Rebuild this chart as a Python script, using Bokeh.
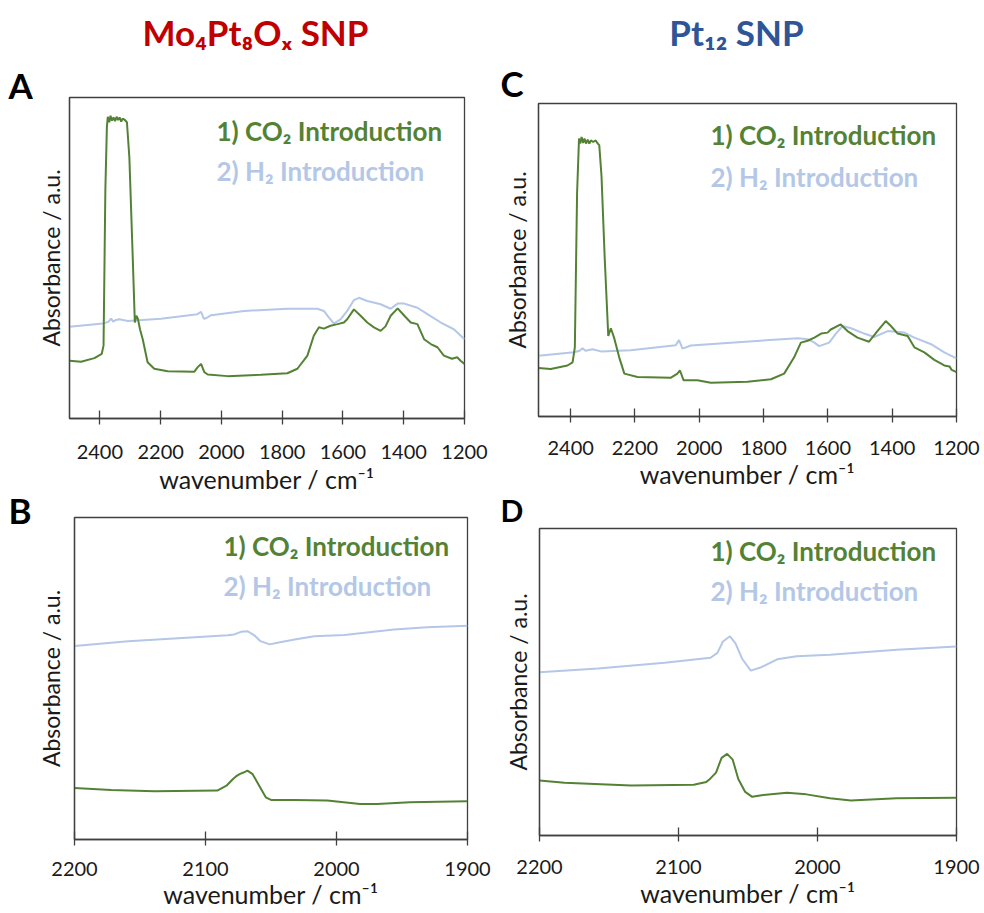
from bokeh.plotting import figure
from bokeh.models import Range1d, FixedTicker, Label
from bokeh.layouts import column, row
from bokeh.embed import file_html
from bokeh.resources import INLINE

# ---------------- data (absorbance in arbitrary units) ----------------
# Panel A : Mo4Pt8Ox SNP, 2500-1200 cm-1
a_co2_wn = [2500, 2462, 2418, 2394, 2388, 2382, 2377, 2374, 2369, 2365, 2360, 2355, 2350, 2345,
            2340, 2335, 2330, 2325, 2318, 2311, 2303, 2292, 2285, 2280, 2275, 2268, 2259, 2243,
            2221, 2177, 2089, 2078, 2067, 2056, 2045, 1980, 1870, 1783, 1750, 1717, 1696, 1679,
            1663, 1641, 1618, 1597, 1586, 1564, 1542, 1520, 1498, 1476, 1460, 1443, 1420, 1398,
            1377, 1355, 1333, 1311, 1289, 1268, 1241, 1224, 1213, 1200]
a_co2_ab = [0.180, 0.177, 0.188, 0.201, 0.227, 0.711, 0.907, 0.940, 0.923, 0.943, 0.928, 0.938,
            0.926, 0.940, 0.930, 0.938, 0.925, 0.934, 0.930, 0.923, 0.814, 0.505, 0.299, 0.320,
            0.311, 0.278, 0.247, 0.175, 0.155, 0.147, 0.146, 0.160, 0.170, 0.144, 0.137, 0.132,
            0.136, 0.141, 0.155, 0.196, 0.258, 0.284, 0.280, 0.289, 0.294, 0.299, 0.309, 0.340,
            0.320, 0.299, 0.284, 0.273, 0.287, 0.320, 0.343, 0.320, 0.299, 0.294, 0.247, 0.232,
            0.222, 0.196, 0.186, 0.191, 0.180, 0.170]
a_h2_wn = [2500, 2390, 2372, 2363, 2356, 2347, 2336, 2308, 2199, 2079, 2067, 2058, 2049, 2034,
           1925, 1783, 1684, 1663, 1646, 1630, 1608, 1586, 1564, 1547, 1520, 1476, 1443, 1420,
           1398, 1355, 1322, 1278, 1235, 1200]
a_h2_ab = [0.286, 0.296, 0.301, 0.311, 0.302, 0.307, 0.309, 0.304, 0.311, 0.325, 0.332, 0.311,
           0.313, 0.322, 0.335, 0.342, 0.342, 0.335, 0.314, 0.296, 0.309, 0.335, 0.369, 0.376,
           0.366, 0.356, 0.342, 0.358, 0.358, 0.345, 0.325, 0.299, 0.278, 0.247]

# Panel C : Pt12 SNP, 2500-1200 cm-1
c_co2_wn = [2500, 2462, 2410, 2394, 2387, 2380, 2374, 2370, 2366, 2361, 2357, 2352, 2347, 2342,
            2337, 2330, 2322, 2316, 2311, 2304, 2294, 2283, 2275, 2265, 2249, 2233, 2192, 2088,
            2068, 2060, 2049, 2006, 1964, 1850, 1777, 1736, 1705, 1684, 1663, 1642, 1621, 1601,
            1591, 1560, 1539, 1508, 1472, 1446, 1420, 1404, 1383, 1352, 1331, 1300, 1269, 1238,
            1222, 1215, 1200]
c_co2_ab = [0.155, 0.152, 0.163, 0.173, 0.221, 0.714, 0.888, 0.872, 0.893, 0.874, 0.888, 0.872,
            0.885, 0.872, 0.882, 0.877, 0.882, 0.872, 0.867, 0.767, 0.504, 0.257, 0.282, 0.252,
            0.189, 0.137, 0.126, 0.124, 0.137, 0.147, 0.116, 0.116, 0.108, 0.111, 0.119, 0.137,
            0.189, 0.236, 0.242, 0.252, 0.265, 0.268, 0.278, 0.294, 0.273, 0.252, 0.239, 0.273,
            0.305, 0.289, 0.265, 0.257, 0.221, 0.205, 0.181, 0.163, 0.160, 0.149, 0.142]
c_h2_wn = [2500, 2389, 2372, 2363, 2354, 2332, 2306, 2213, 2073, 2063, 2052, 2026, 1902, 1694,
           1663, 1642, 1627, 1596, 1575, 1554, 1528, 1487, 1456, 1414, 1362, 1331, 1279, 1238, 1200]
c_h2_ab = [0.194, 0.205, 0.210, 0.218, 0.210, 0.215, 0.208, 0.212, 0.228, 0.244, 0.217, 0.227,
           0.236, 0.250, 0.247, 0.236, 0.225, 0.236, 0.265, 0.289, 0.282, 0.265, 0.254, 0.273,
           0.268, 0.252, 0.231, 0.205, 0.186]

# Panel B : Mo4Pt8Ox SNP, 2200-1900 cm-1
b_h2_wn = [2200, 2159, 2108, 2083, 2078, 2073, 2068, 2063, 2058, 2051, 2045, 2032, 2017, 1994,
           1956, 1931, 1900]
b_h2_ab = [0.601, 0.616, 0.628, 0.634, 0.637, 0.645, 0.647, 0.635, 0.616, 0.606, 0.611, 0.621,
           0.631, 0.635, 0.652, 0.659, 0.664]
b_co2_wn = [2200, 2172, 2139, 2091, 2084, 2079, 2077, 2074, 2071, 2068, 2064, 2059, 2054, 2050,
            2032, 2007, 1982, 1969, 1944, 1900]
b_co2_ab = [0.160, 0.154, 0.150, 0.152, 0.167, 0.188, 0.195, 0.203, 0.208, 0.214, 0.203, 0.167,
            0.131, 0.123, 0.123, 0.121, 0.110, 0.110, 0.116, 0.119]

# Panel D : Pt12 SNP, 2200-1900 cm-1
d_h2_wn = [2200, 2158, 2110, 2077, 2072, 2068, 2063, 2059, 2054, 2048, 2041, 2029, 2015, 1991,
           1943, 1900]
d_h2_ab = [0.532, 0.544, 0.563, 0.579, 0.595, 0.632, 0.649, 0.626, 0.574, 0.537, 0.547, 0.574,
           0.584, 0.589, 0.605, 0.616]
d_co2_wn = [2200, 2182, 2134, 2089, 2080, 2077, 2073, 2069, 2065, 2061, 2057, 2052, 2047, 2039,
            2022, 2008, 1991, 1976, 1943, 1900]
d_co2_ab = [0.179, 0.172, 0.163, 0.165, 0.174, 0.186, 0.205, 0.253, 0.266, 0.247, 0.184, 0.142,
            0.126, 0.132, 0.139, 0.134, 0.121, 0.114, 0.121, 0.123]

top_ticks = [2400, 2200, 2000, 1800, 1600, 1400, 1200]
bottom_ticks = [2200, 2100, 2000, 1900]

series_names = ["1) CO\u2082 Introduction", "2) H\u2082 Introduction"]
titles = ["Mo\u2084Pt\u2088O\u2093 SNP", "Pt\u2081\u2082 SNP"]
panel_letters = ["A", "B", "C", "D"]
x_label = "wavenumber / cm\u207b\u00b9"
y_label = "Absorbance / a.u."

GREEN = "#548235"
LBLUE = "#B4C7E7"
RED = "#C00000"
DBLUE = "#2F5597"
FONT = "Lato"
INK = "#1a1a1a"
FRAME = "#404040"
SHIFT = 0.27  # label baseline correction, fraction of the font size


def make_panel(width, height, left, right, top, bottom, xr, ticks,
               tick_standoff, label_standoff, ylabel_standoff):
    p = figure(width=width, height=height, output_backend="svg", toolbar_location=None,
               x_range=Range1d(*xr), y_range=Range1d(0, 1), title_location=None,
               min_border_left=left, min_border_right=right,
               min_border_top=top, min_border_bottom=bottom)
    p.grid.visible = False
    p.outline_line_color = FRAME
    p.outline_line_width = 1.3
    xa = p.xaxis[0]
    xa.ticker = FixedTicker(ticks=ticks)
    xa.minor_tick_line_color = None
    xa.major_tick_in = 8
    xa.major_tick_out = 6
    xa.axis_line_color = FRAME
    xa.axis_line_width = 1.3
    xa.major_tick_line_color = FRAME
    xa.major_tick_line_width = 1.3
    xa.major_label_text_font = FONT
    xa.major_label_text_font_size = "20px"
    xa.major_label_text_color = INK
    xa.major_label_standoff = tick_standoff
    xa.axis_label = x_label
    xa.axis_label_text_font = FONT
    xa.axis_label_text_font_size = "25px"
    xa.axis_label_text_font_style = "normal"
    xa.axis_label_text_color = INK
    xa.axis_label_standoff = label_standoff
    ya = p.yaxis[0]
    ya.ticker = FixedTicker(ticks=[])
    ya.minor_tick_line_color = None
    ya.major_tick_line_color = None
    ya.major_tick_in = 0
    ya.major_tick_out = 0
    ya.axis_line_color = FRAME
    ya.axis_line_width = 1.3
    ya.axis_label = y_label
    ya.axis_label_text_font = FONT
    ya.axis_label_text_font_size = "23px"
    ya.axis_label_text_font_style = "normal"
    ya.axis_label_text_color = INK
    ya.axis_label_standoff = ylabel_standoff
    return p


def legend_text(p, frame_left, frame_bottom, cx, cy, text, color):
    # cx, cy: position in the figure canvas (cy = baseline, from top)
    size = 26
    p.add_layout(Label(x=cx - frame_left, y=frame_bottom - cy + SHIFT * size,
                       x_units="screen", y_units="screen",
                       text=text, text_font=FONT, text_font_size=f"{size}px",
                       text_font_style="bold", text_color=color, text_align="left",
                       text_baseline="alphabetic"))


def make_strip(width, height, x0, y_top):
    # a plain drawing strip whose ranges are page pixels (y grows downwards)
    s = figure(width=width, height=height, output_backend="svg", toolbar_location=None,
               x_range=Range1d(x0, x0 + width), y_range=Range1d(y_top + height, y_top),
               x_axis_location=None, y_axis_location=None, title_location=None,
               min_border=0, min_border_left=0, min_border_right=0,
               min_border_top=0, min_border_bottom=0)
    s.grid.visible = False
    s.outline_line_color = None
    return s


def strip_text(s, x, y_center, text, size, color, align="left"):
    # y_center: vertical centre of the glyphs on the page
    s.add_layout(Label(x=x, y=y_center, text=text, text_font=FONT,
                       text_font_size=f"{size}px",
                       text_font_style="bold", text_color=color, text_align=align,
                       text_baseline="alphabetic"))


LW = 33  # width of the letter column at the far left

# ---------------- left half ----------------
top_left = make_strip(492, 55, 0, 0)
strip_text(top_left, 255, 31.5, titles[0], 35, RED, align="center")

letters_left = make_strip(LW, 858, 0, 55)
strip_text(letters_left, 8, 84.5, panel_letters[0], 35, "black")
strip_text(letters_left, 8, 509.5, panel_letters[1], 35, "black")

# panel A : page x 33..492, y 55..496  (frame 68..464 x 97..420)
pA = make_panel(492 - LW, 441, 35, 28, 42, 76, (2500, 1200), top_ticks, 20, 2, 5)
pA.line(a_h2_wn, a_h2_ab, line_color=LBLUE, line_width=2)
pA.line(a_co2_wn, a_co2_ab, line_color=GREEN, line_width=2)
legend_text(pA, 35, 365, 215 - LW, 140 - 55, series_names[0], GREEN)
legend_text(pA, 35, 365, 215 - LW, 180 - 55, series_names[1], LBLUE)

# panel B : page x 33..492, y 496..913  (frame 73..467 x 517..839)
pB = make_panel(492 - LW, 417, 40, 25, 21, 74, (2200, 1900), bottom_ticks, 16, 0, 10)
pB.line(b_h2_wn, b_h2_ab, line_color=LBLUE, line_width=2)
pB.line(b_co2_wn, b_co2_ab, line_color=GREEN, line_width=2)
legend_text(pB, 40, 343, 222 - LW, 553 - 496, series_names[0], GREEN)
legend_text(pB, 40, 343, 222 - LW, 593 - 496, series_names[1], LBLUE)

# each panel wrapped in its own row so that the column does not align their frames
left_panels = column(row(pA, spacing=0), row(pB, spacing=0), spacing=0)
left_half = column(top_left, row(letters_left, left_panels, spacing=0), spacing=0)

# ---------------- right half ----------------
top_right = make_strip(492, 102, 492, 0)
strip_text(top_right, 736, 31.5, titles[1], 35, DBLUE, align="center")
strip_text(top_right, 500, 82, panel_letters[2], 35, "black")

# panel C : page y 102..491 (frame 538..956 x 103..417)
pC = make_panel(492, 389, 46, 28, 1, 74, (2500, 1200), top_ticks, 18, 1, 8)
pC.line(c_h2_wn, c_h2_ab, line_color=LBLUE, line_width=2)
pC.line(c_co2_wn, c_co2_ab, line_color=GREEN, line_width=2)
legend_text(pC, 46, 315, 218, 143 - 102, series_names[0], GREEN)
legend_text(pC, 46, 315, 218, 185 - 102, series_names[1], LBLUE)

mid_right = make_strip(492, 36, 492, 491)
strip_text(mid_right, 500, 509.8, panel_letters[3], 30, "black")

# panel D : page y 527..913 (frame 539..956 x 528..835)
pD = make_panel(492, 386, 47, 28, 1, 78, (2200, 1900), bottom_ticks, 18, 1, 8)
pD.line(d_h2_wn, d_h2_ab, line_color=LBLUE, line_width=2)
pD.line(d_co2_wn, d_co2_ab, line_color=GREEN, line_width=2)
legend_text(pD, 47, 308, 218, 558 - 527, series_names[0], GREEN)
legend_text(pD, 47, 308, 218, 598 - 527, series_names[1], LBLUE)

right_half = column(top_right, row(pC, spacing=0), mid_right, row(pD, spacing=0), spacing=0)

layout = row(left_half, right_half, spacing=0)
open("out.html", "w").write(file_html(layout, INLINE))
